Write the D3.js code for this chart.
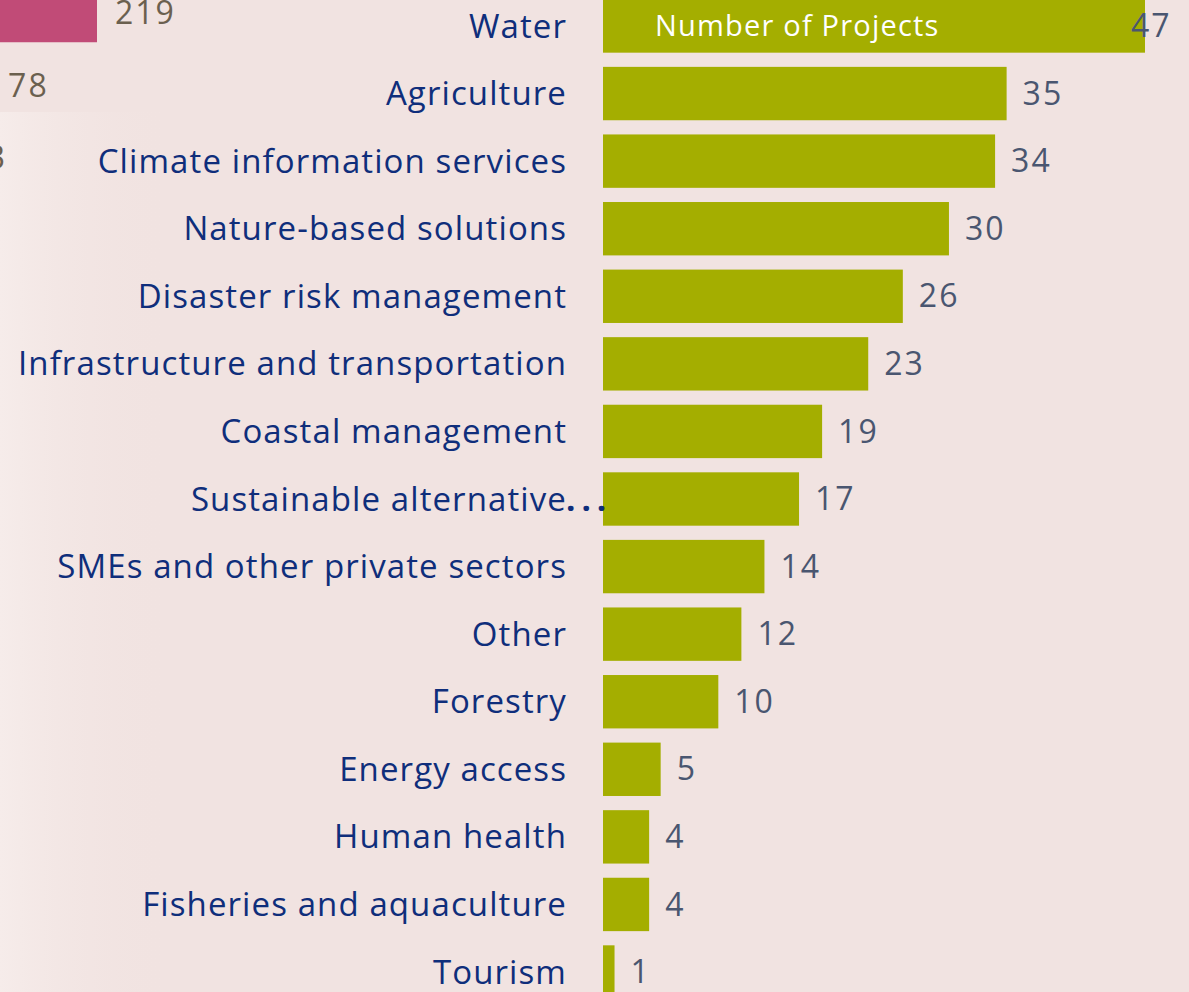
<!DOCTYPE html>
<html lang="en">
<head>
  <meta charset="UTF-8">
  <title>Number of Projects by Sector</title>
  <style>
    html, body { margin: 0; padding: 0; background: #f1e3e1; }
    svg { display: block; }
    text { font-family: "Open Sans", "Lato", sans-serif; }
  </style>
</head>
<body>
  <script src="https://d3js.org/d3.v7.min.js"></script>
  <script>
    // main chart: number of projects per sector
    const sectors = [
      "Water", "Agriculture", "Climate information services", "Nature-based solutions",
      "Disaster risk management", "Infrastructure and transportation", "Coastal management",
      "Sustainable alternative…", "SMEs and other private sectors", "Other", "Forestry",
      "Energy access", "Human health", "Fisheries and aquaculture", "Tourism"
    ];
    const projects = [47, 35, 34, 30, 26, 23, 19, 17, 14, 12, 10, 5, 4, 4, 1];
    const seriesName = "Number of Projects";

    // neighbouring chart, cut off at the left edge of the slide
    const sideCats = ["a", "b", "c"];
    const sideValues = [219, 78, 23];

    const width = 1189, height = 992;

    const svg = d3.select("body").append("svg")
      .attr("width", width)
      .attr("height", height);

    const defs = svg.append("defs");
    const grad = defs.append("linearGradient").attr("id", "fade");
    grad.append("stop").attr("offset", "0%").attr("stop-color", "#f6ecea");
    grad.append("stop").attr("offset", "100%").attr("stop-color", "#f1e3e1").attr("stop-opacity", 0);

    svg.append("rect").attr("width", width).attr("height", height).attr("fill", "#f1e3e1");
    svg.append("rect").attr("x", 0).attr("y", 112).attr("width", 170).attr("height", height - 112)
      .attr("fill", "url(#fade)");

    // side chart
    const xs = d3.scaleLinear().domain([0, 219]).range([-69, 97]);
    const ys = d3.scaleBand().domain(sideCats).range([-23, 194.5]).paddingInner(0.2).paddingOuter(0.1);

    svg.append("g").selectAll("rect")
      .data(sideValues)
      .join("rect")
      .attr("x", xs(0))
      .attr("y", (d, i) => ys(sideCats[i]))
      .attr("width", d => xs(d) - xs(0))
      .attr("height", ys.bandwidth())
      .attr("fill", "#c14b77");

    svg.append("g").selectAll("text")
      .data(sideValues)
      .join("text")
      .attr("x", d => xs(d) + 18)
      .attr("y", (d, i) => ys(sideCats[i]) + ys.bandwidth() / 2)
      .attr("dy", "0.35em")
      .attr("font-size", 32)
      .attr("letter-spacing", 2)
      .attr("fill", "#6b604f")
      .text(d => d);

    // main chart
    const x = d3.scaleLinear().domain([0, d3.max(projects)]).range([603, 1145]);
    const y = d3.scaleBand().domain(sectors).range([-7.8, 1005.8]).paddingInner(0.21).paddingOuter(0.105);

    const rows = sectors.map((s, i) => ({ sector: s, value: projects[i] }));

    svg.append("g").selectAll("rect")
      .data(rows)
      .join("rect")
      .attr("x", x(0))
      .attr("y", d => y(d.sector))
      .attr("width", d => x(d.value) - x(0))
      .attr("height", y.bandwidth())
      .attr("fill", "#a4ae00");

    const labelX = 567;
    const labels = svg.append("g")
      .attr("font-size", 33)
      .attr("letter-spacing", 1.1)
      .attr("fill", "#0f2e7b");

    labels.selectAll("text.cat")
      .data(rows)
      .join("text")
      .attr("class", "cat")
      .attr("x", labelX)
      .attr("y", d => y(d.sector) + y.bandwidth() / 2)
      .attr("dy", "0.35em")
      .attr("text-anchor", "end")
      .text(d => d.sector.replace(/…$/, ""));

    // truncated label: the dots hang past the label edge, over the bar
    labels.selectAll("text.ell")
      .data(rows.filter(d => d.sector.endsWith("…")))
      .join("text")
      .attr("class", "ell")
      .attr("x", labelX - 1)
      .attr("y", d => y(d.sector) + y.bandwidth() / 2)
      .attr("dy", "0.35em")
      .attr("letter-spacing", 6)
      .attr("font-weight", 700)
      .text("...");

    svg.append("g").selectAll("text")
      .data(rows)
      .join("text")
      .attr("x", d => Math.min(x(d.value) + 16, width - 58))
      .attr("y", d => y(d.sector) + y.bandwidth() / 2)
      .attr("dy", "0.35em")
      .attr("font-size", 32)
      .attr("letter-spacing", 2)
      .attr("fill", "#4a5670")
      .text(d => d.value);

    svg.append("text")
      .attr("x", 655)
      .attr("y", y(sectors[0]) + y.bandwidth() / 2)
      .attr("dy", "0.35em")
      .attr("font-size", 29)
      .attr("letter-spacing", 1.2)
      .attr("fill", "#ffffff")
      .text(seriesName);
  </script>
</body>
</html>
